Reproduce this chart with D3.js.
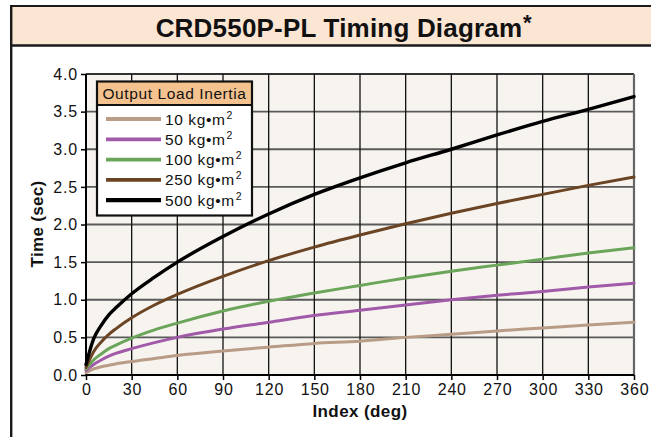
<!DOCTYPE html>
<html><head><meta charset="utf-8">
<script src="https://cdn.jsdelivr.net/npm/d3@7/dist/d3.min.js"></script>
<style>
body{margin:0;background:#fff;}
svg{display:block;font-family:"Liberation Sans",Arial,Helvetica,sans-serif;}
</style></head>
<body>
<svg id="c" width="651" height="437"></svg>
<script>
const angles = [0, 5, 10, 15, 20, 30, 45, 60, 90, 120, 150, 180, 210, 240, 270, 300, 330, 360];
const load10  = [0.03, 0.08, 0.11, 0.13, 0.15, 0.18, 0.22, 0.26, 0.32, 0.37, 0.42, 0.45, 0.50, 0.54, 0.585, 0.625, 0.665, 0.70];
const load50  = [0.06, 0.14, 0.20, 0.25, 0.29, 0.35, 0.43, 0.50, 0.61, 0.70, 0.79, 0.86, 0.93, 1.00, 1.06, 1.11, 1.17, 1.22];
const load100 = [0.08, 0.20, 0.28, 0.35, 0.40, 0.49, 0.60, 0.69, 0.85, 0.98, 1.09, 1.19, 1.29, 1.38, 1.46, 1.54, 1.62, 1.69];
const load250 = [0.10, 0.31, 0.44, 0.54, 0.62, 0.76, 0.93, 1.07, 1.31, 1.52, 1.70, 1.86, 2.01, 2.15, 2.28, 2.40, 2.52, 2.63];
const load500 = [0.14, 0.48, 0.66, 0.80, 0.90, 1.08, 1.30, 1.50, 1.84, 2.14, 2.40, 2.62, 2.82, 3.00, 3.19, 3.37, 3.53, 3.70];
const seriesNames = ["10 kg\u2022m", "50 kg\u2022m", "100 kg\u2022m", "250 kg\u2022m", "500 kg\u2022m"];
const seriesColors = ["#b89c86", "#a05aa8", "#6aa55a", "#6b4424", "#000000"];
const xTicks = [0, 30, 60, 90, 120, 150, 180, 210, 240, 270, 300, 330, 360];
const yTicks = [0.0, 0.5, 1.0, 1.5, 2.0, 2.5, 3.0, 3.5, 4.0];
const titleText = "CRD550P-PL Timing Diagram";
const legendTitle = "Output Load Inertia";

const series = [load10, load50, load100, load250, load500];
const svg = d3.select("#c");

// title bar
svg.append("rect").attr("x", 11).attr("y", 6).attr("width", 650).attr("height", 39.5)
  .attr("fill", "#fbe5d3");
svg.append("line").attr("x1", 10).attr("x2", 651).attr("y1", 6).attr("y2", 6).attr("stroke", "#1a1a1a").attr("stroke-width", 2.2);
svg.append("line").attr("x1", 10).attr("x2", 651).attr("y1", 45.5).attr("y2", 45.5).attr("stroke", "#1a1a1a").attr("stroke-width", 2.4);
svg.append("line").attr("x1", 11.2).attr("x2", 11.2).attr("y1", 5).attr("y2", 437).attr("stroke", "#1a1a1a").attr("stroke-width", 2.4);

svg.append("text").attr("x", 339).attr("y", 36.5).attr("text-anchor", "middle")
  .attr("font-size", 26).attr("font-weight", "bold").attr("letter-spacing", 0.2).attr("fill", "#111")
  .text(titleText);
svg.append("text").attr("x", 523).attr("y", 30).attr("font-size", 22).attr("font-weight", "bold")
  .attr("fill", "#111").text("*");

const x = d3.scaleLinear().domain([0, 360]).range([86, 634]);
const y = d3.scaleLinear().domain([0, 4]).range([375, 74]);

// plot background
svg.append("rect").attr("x", x(0)).attr("y", y(4)).attr("width", x(360) - x(0)).attr("height", y(0) - y(4))
  .attr("fill", "#f7f4ef");

// gridlines
svg.append("g").selectAll("line").data(yTicks.filter(d => d > 0)).join("line")
  .attr("x1", x(0)).attr("x2", x(360)).attr("y1", d => y(d)).attr("y2", d => y(d))
  .attr("stroke", d => d === 4 ? "#333" : "#5a5a5a").attr("stroke-width", 1.8);
svg.append("g").selectAll("line").data(xTicks.filter(d => d > 0)).join("line")
  .attr("y1", y(0)).attr("y2", y(4)).attr("x1", d => x(d)).attr("x2", d => x(d))
  .attr("stroke", d => d === 360 ? "#666" : "#111").attr("stroke-width", d => d === 360 ? 2.2 : 1.3);

// axes
const yAxis = svg.append("g").attr("transform", `translate(${x(0)},0)`)
  .call(d3.axisLeft(y).tickValues(yTicks).tickFormat(d3.format(".1f")).tickSize(5).tickPadding(3));
const xAxis = svg.append("g").attr("transform", `translate(0,${y(0)})`)
  .call(d3.axisBottom(x).tickValues(xTicks).tickFormat(d3.format("d")).tickSize(5).tickPadding(4));
[yAxis, xAxis].forEach(a => {
  a.select(".domain").attr("stroke", "#000").attr("stroke-width", 2);
  a.selectAll(".tick line").attr("stroke", "#000").attr("stroke-width", 1.5);
  a.selectAll(".tick text").attr("font-size", 16).attr("letter-spacing", 0.8).attr("fill", "#111")
    .attr("font-family", "'Liberation Sans', Arial, sans-serif");
});
xAxis.selectAll(".tick text").attr("dx", 0.4);
xAxis.select(".domain").attr("d", `M${x(0)},0H${x(360)}`);
yAxis.select(".domain").attr("d", `M0,${y(0)}V${y(4)}`);

svg.append("text").attr("x", 360).attr("y", 417).attr("text-anchor", "middle")
  .attr("font-size", 17).attr("font-weight", "bold").attr("letter-spacing", 0.4).attr("fill", "#111").text("Index (deg)");
svg.append("text").attr("transform", "translate(42.5,224) rotate(-90)").attr("text-anchor", "middle")
  .attr("font-size", 17).attr("font-weight", "bold").attr("letter-spacing", 0.3).attr("fill", "#111").text("Time (sec)");

// curves
const line = d3.line().x((d, i) => x(angles[i])).y(d => y(d)).curve(d3.curveMonotoneX);
svg.append("g").selectAll("path").data(series).join("path")
  .attr("d", d => line(d)).attr("fill", "none")
  .attr("stroke", (d, i) => seriesColors[i])
  .attr("stroke-width", (d, i) => i === 4 ? 3.4 : 3)
  .attr("stroke-linejoin", "round").attr("stroke-linecap", "round");

// legend
const lg = svg.append("g");
const lx = 97, ly = 81.5, lw = 155, lh = 134, hh = 23.5;
lg.append("rect").attr("x", lx).attr("y", ly).attr("width", lw).attr("height", lh).attr("fill", "#fff");
lg.append("rect").attr("x", lx).attr("y", ly).attr("width", lw).attr("height", hh).attr("fill", "#f3c28f");
lg.append("line").attr("x1", lx).attr("x2", lx + lw).attr("y1", ly + hh).attr("y2", ly + hh).attr("stroke", "#111").attr("stroke-width", 2);
lg.append("rect").attr("x", lx).attr("y", ly).attr("width", lw).attr("height", lh).attr("fill", "none")
  .attr("stroke", "#111").attr("stroke-width", 2.2);
lg.append("text").attr("x", lx + lw / 2).attr("y", ly + 17).attr("text-anchor", "middle")
  .attr("font-size", 15.5).attr("letter-spacing", 0.6).attr("fill", "#111").text(legendTitle);
seriesNames.forEach((n, i) => {
  const yy = 119 + i * 20.3;
  lg.append("line").attr("x1", 106).attr("x2", 161).attr("y1", yy).attr("y2", yy)
    .attr("stroke", seriesColors[i]).attr("stroke-width", i === 4 ? 4.2 : 3.8);
  const t = lg.append("text").attr("x", 165).attr("y", yy + 5.5).attr("font-size", 15.5)
    .attr("letter-spacing", 0.6).attr("fill", "#111");
  t.append("tspan").text(n);
  t.append("tspan").attr("dx", 1).attr("dy", -6).attr("font-size", 10.5).text("2");
});
</script>
</body></html>
